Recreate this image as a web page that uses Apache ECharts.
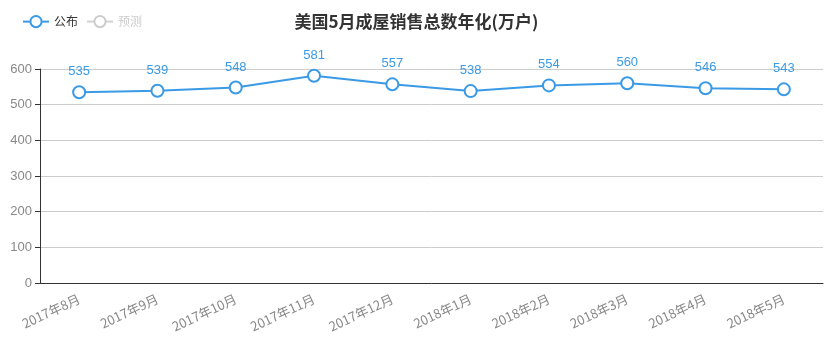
<!DOCTYPE html>
<html>
<head>
<meta charset="utf-8">
<script src="https://cdn.jsdelivr.net/npm/echarts@6/dist/echarts.min.js"></script>
<style>
	html,body{margin:0;padding:0;background:#fff;}
	#main{width:833px;height:352px;}
</style>
</head>
<body>
<div id="main"></div>
<script type="text/javascript">
	// 横轴月份
	var months = ["2017年8月", "2017年9月", "2017年10月", "2017年11月", "2017年12月", "2018年1月", "2018年2月", "2018年3月", "2018年4月", "2018年5月"];
	// 公布值
	var published = [535, 539, 548, 581, 557, 538, 554, 560, 546, 543];
	// 预测值（图中未显示）
	var forecast = [];

	var myChart = echarts.init(document.getElementById('main'));
	var option = {
		title: {
			text: '美国5月成屋销售总数年化(万户)',
			left: 'center',
			top: 8,
			textStyle: {
				color: '#333',
				fontSize: 17,
				fontWeight: 'bold',
				fontFamily: 'Noto Sans CJK SC'
			}
		},
		legend: {
			left: 17,
			top: 10,
			itemWidth: 26,
			itemHeight: 14,
			itemGap: 8,
			textStyle: { color: '#333', fontSize: 12, fontFamily: 'Noto Sans CJK SC' },
			inactiveColor: '#ccc',
			data: ['公布', '预测'],
			selected: { '预测': false }
		},
		grid: {
			left: 40,
			right: 10,
			top: 69,
			bottom: 69
		},
		xAxis: {
			type: 'category',
			data: months,
			boundaryGap: true,
			axisLine: { lineStyle: { color: '#333' } },
			axisTick: { lineStyle: { color: '#333' } },
			axisLabel: {
				rotate: 25,
				color: '#888',
				fontSize: 13,
				margin: 15,
				fontFamily: 'Noto Sans CJK SC'
			}
		},
		yAxis: {
			type: 'value',
			min: 0,
			max: 600,
			interval: 100,
			axisLine: { show: true, lineStyle: { color: '#333' } },
			axisTick: { show: true, lineStyle: { color: '#333' } },
			axisLabel: { color: '#888', fontSize: 13 },
			splitLine: { lineStyle: { color: '#ccc' } }
		},
		series: [{
			name: '公布',
			type: 'line',
			data: published,
			symbol: 'emptyCircle',
			symbolSize: 12,
			color: '#3a9ae6',
			lineStyle: { width: 2, color: '#3a9ae6' },
			itemStyle: { color: '#3a9ae6', borderWidth: 1.5 },
			label: {
				show: true,
				position: 'top',
				distance: 7,
				color: '#3a9ae6',
				fontSize: 13
			}
		}, {
			name: '预测',
			type: 'line',
			data: forecast,
			symbol: 'emptyCircle',
			symbolSize: 12,
			color: '#ccc'
		}]
	};
	myChart.setOption(option, true);
</script>
</body>
</html>
